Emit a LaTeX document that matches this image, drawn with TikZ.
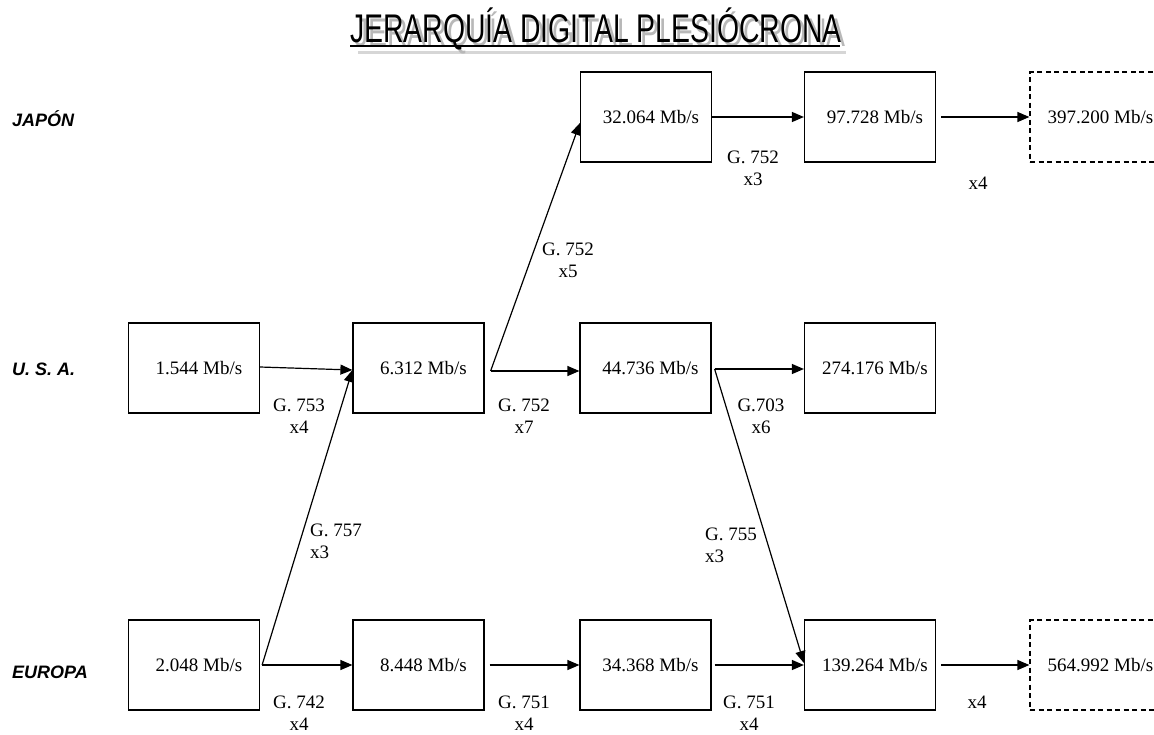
\documentclass[tikz,border=0pt]{standalone}
\usepackage{graphicx}
\usepackage{fontspec}
\setmainfont{Liberation Serif}
\newfontfamily\headfont{Liberation Sans}
\usetikzlibrary{arrows.meta}
\definecolor{shadowgray}{gray}{0.72}
\definecolor{rulegray}{gray}{0.84}

\begin{document}
\begin{tikzpicture}[x=1pt,y=-1pt,
  rate/.style={draw,line width=1.2pt,minimum width=131pt,minimum height=90pt,
    inner sep=0pt,font=\fontsize{19}{23}\selectfont},
  future/.style={rate,dash pattern=on 5pt off 3.5pt},
  link/.style={line width=1.2pt,-{Triangle[length=12pt,width=10pt]}},
  lbl/.style={align=center,inner sep=0pt,font=\fontsize{19}{22}\selectfont},
  lbll/.style={lbl,align=left,anchor=west},
  region/.style={anchor=west,inner sep=0pt,
    font=\headfont\bfseries\itshape\fontsize{18}{20}\selectfont},
  heading/.style={anchor=base,inner sep=0pt,font=\headfont\fontsize{40}{40}\selectfont}]

\useasboundingbox (0,0) rectangle (1154,734);
\clip (0,0) rectangle (1154,734);

% heading with drop shadow
\draw[rulegray,line width=3pt] (358,52) -- (846,52);
\node[heading,text=shadowgray] at (600,46) {\scalebox{0.71}[1]{JERARQUÍA DIGITAL PLESIÓCRONA}};
\node[heading] (title) at (596,42) {\scalebox{0.71}[1]{JERARQUÍA DIGITAL PLESIÓCRONA}};
\draw[line width=2pt] (350,46) -- (840,46);

% region names
\node[region] (jp) at (12,119) {JAPÓN};
\node[region] (us) at (12,369) {U. S. A.};
\node[region] (eu) at (12,672) {EUROPA};

% Japan
\node[rate]   (j32064)  at (646,117)    {\hspace*{10pt}32.064 Mb/s};
\node[rate]   (j97728)  at (870,117)    {\hspace*{10pt}97.728 Mb/s};
\node[future] (j397200) at (1095.5,117) {\hspace*{10pt}397.200 Mb/s};

% USA
\node[rate] (u1544)   at (194,368)   {\hspace*{10pt}1.544 Mb/s};
\node[rate] (u6312)   at (418.5,368) {\hspace*{10pt}6.312 Mb/s};
\node[rate] (u44736)  at (645.5,368) {\hspace*{10pt}44.736 Mb/s};
\node[rate] (u274176) at (870,368)   {\hspace*{10pt}274.176 Mb/s};

% Europe
\node[rate]   (e2048)   at (194,665)    {\hspace*{10pt}2.048 Mb/s};
\node[rate]   (e8448)   at (418.5,665)  {\hspace*{10pt}8.448 Mb/s};
\node[rate]   (e34368)  at (645.5,665)  {\hspace*{10pt}34.368 Mb/s};
\node[rate]   (e139264) at (870,665)    {\hspace*{10pt}139.264 Mb/s};
\node[future] (e564992) at (1095.5,665) {\hspace*{10pt}564.992 Mb/s};

% branch points
\coordinate (u6out)  at ([xshift=6pt,yshift=-3pt]u6312.east);
\coordinate (u44out) at ([xshift=3pt,yshift=-1pt]u44736.east);

% connectors
\draw[link] (j32064.east) -- (j97728.west);
\draw[link] ([xshift=5pt]j97728.east) -- (j397200.west);

\draw[link] ([yshift=1pt]u1544.east) -- ([yshift=-2pt]u6312.west);
\draw[link] ([xshift=2pt]e2048.east) -- ([yshift=-2pt]u6312.west);
\draw[link] (u6out) -- ([yshift=-3pt]u44736.west);
\draw[link] (u6out) -- ([yshift=-6pt]j32064.west);
\draw[link] (u44out) -- ([yshift=-1pt]u274176.west);
\draw[link] (u44out) -- ([yshift=2pt]e139264.west);

\draw[link] ([xshift=2pt]e2048.east) -- (e8448.west);
\draw[link] ([xshift=5pt]e8448.east) -- (e34368.west);
\draw[link] ([xshift=3pt]e34368.east) -- (e139264.west);
\draw[link] ([xshift=5pt]e139264.east) -- (e564992.west);

% multiplexing labels
\node[lbl] (l1) at (753,168) {G. 752\\x3};
\node[lbl] (l2) at (978,183) {x4};
\node[lbl] (l3) at (568,260) {G. 752\\x5};
\node[lbl] (l4) at (299,416) {G. 753\\x4};
\node[lbl] (l5) at (524,416) {G. 752\\x7};
\node[lbl] (l6) at (761,416) {G.703\\x6};
\node[lbll] (l7) at (310,541) {G. 757\\x3};
\node[lbll] (l8) at (705,545) {G. 755\\x3};
\node[lbl] (l9) at (299,713) {G. 742\\x4};
\node[lbl] (l10) at (524,713) {G. 751\\x4};
\node[lbl] (l11) at (749,713) {G. 751\\x4};
\node[lbl] (l12) at (977,702) {x4};
\end{tikzpicture}
\end{document}
